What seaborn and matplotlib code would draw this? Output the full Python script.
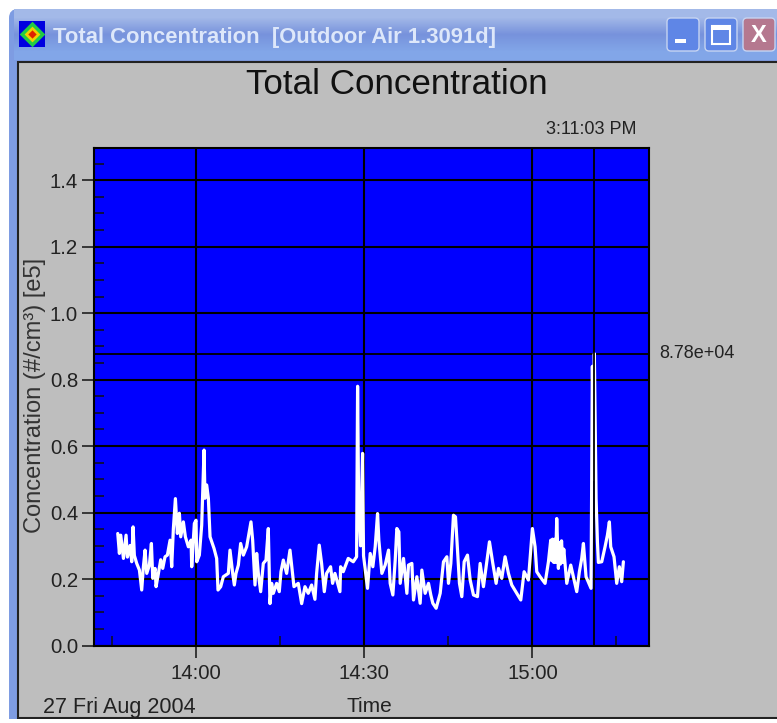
import pandas as pd
import seaborn as sns
import matplotlib.pyplot as plt
from matplotlib.colors import LinearSegmentedColormap
from matplotlib.patches import Rectangle, FancyBboxPatch

# minutes after 14:00
time_min = [
    -13.96, -13.67, -13.43, -12.95, -12.48, -12.24, -11.76, -11.47, -11.23, -11.0,
    -10.58, -10.1, -9.69, -9.39, -9.09, -8.79, -8.32, -7.96, -7.72, -7.31,
    -7.13, -6.71, -6.3, -5.94, -5.53, -5.11, -4.63, -4.34, -4.04, -3.68,
    -3.33, -2.97, -2.73, -2.26, -1.9, -1.37, -0.89, -0.77, -0.3, 0.0,
    0.12, 0.59, 1.01, 1.43, 1.6, 1.9, 2.2, 2.5, 3.21, 3.68,
    3.92, 4.4, 4.87, 5.76, 6.06, 6.54, 6.83, 7.13, 7.55, 7.96,
    8.44, 9.03, 9.8, 10.1, 10.52, 10.82, 11.11, 11.53, 12.0, 12.48,
    12.89, 13.19, 13.49, 13.78, 14.38, 14.85, 15.15, 15.57, 16.16, 16.76,
    17.11, 17.47, 18.24, 18.84, 19.43, 20.02, 20.62, 21.21, 21.51, 21.98,
    22.4, 22.88, 23.29, 24.0, 24.36, 24.78, 25.67, 25.79, 26.26, 27.15,
    28.05, 28.64, 28.82, 29.0, 29.35, 29.71, 29.88, 30.59, 31.07, 31.54,
    31.96, 32.38, 32.61, 33.15, 33.74, 34.34, 34.63, 35.11, 35.53, 35.82,
    36.18, 36.42, 37.01, 37.61, 37.9, 38.5, 38.79, 39.39, 39.98, 40.28,
    40.87, 41.47, 41.88, 42.24, 42.83, 43.55, 44.14, 44.74, 45.03, 45.45,
    45.92, 46.28, 46.52, 46.99, 47.41, 47.83, 48.42, 48.9, 49.49, 50.2,
    50.68, 51.27, 52.34, 52.94, 53.53, 53.95, 54.54, 55.13, 55.73, 56.32,
    57.21, 57.93, 58.52, 59.29, 60.0, 60.48, 60.78, 61.37, 62.26, 62.86,
    63.27, 63.45, 63.6, 63.8, 64.0, 64.15, 64.34, 64.64, 64.8, 65.0,
    65.2, 65.4, 65.6, 66.13, 66.84, 67.91, 68.38, 68.8, 69.1, 69.57,
    70.46, 70.7, 70.95, 71.05, 71.36, 71.6, 71.77, 72.37, 72.96, 73.38,
    73.73, 73.97, 74.56, 75.04, 75.51, 75.93, 76.23,
]
conc = [
    .337, .277, .332, .262, .332, .266, .301, .252, .357, .271,
    .247, .227, .167, .237, .287, .217, .242, .307, .202, .232,
    .177, .217, .258, .232, .267, .272, .317, .237, .352, .442,
    .337, .398, .327, .372, .327, .297, .317, .237, .367, .377,
    .252, .272, .362, .588, .443, .483, .443, .327, .292, .262,
    .167, .177, .207, .217, .287, .217, .182, .217, .242, .307,
    .272, .297, .372, .317, .182, .277, .217, .162, .247, .257,
    .352, .126, .187, .157, .187, .162, .222, .257, .217, .287,
    .232, .177, .187, .126, .177, .157, .182, .139, .217, .302,
    .247, .162, .217, .237, .187, .217, .162, .237, .222, .262,
    .252, .267, .78, .44, .30, .578, .27, .172, .277, .237,
    .297, .397, .317, .217, .242, .287, .187, .152, .257, .352,
    .342, .187, .262, .157, .242, .247, .137, .207, .127, .227,
    .157, .187, .152, .127, .112, .157, .252, .267, .187, .247,
    .392, .387, .322, .187, .147, .252, .272, .197, .152, .147,
    .247, .177, .312, .247, .187, .232, .202, .267, .217, .182,
    .157, .137, .222, .197, .352, .297, .222, .207, .187, .252,
    .317, .255, .32, .25, .32, .25, .382, .232, .31, .245,
    .315, .25, .29, .187, .242, .162, .222, .262, .307, .207,
    .172, .84, .50, .878, .443, .312, .25, .252, .297, .332,
    .372, .297, .267, .187, .237, .192, .252,
]
major_x = [0, 30, 60]
major_x_labels = ['14:00', '14:30', '15:00']
minor_x = [-15, 15, 45, 75]
major_y = [0.0, 0.2, 0.4, 0.6, 0.8, 1.0, 1.2, 1.4]
minor_y = [.05, .1, .15, .25, .3, .35, .45, .5, .55, .65, .7, .75,
           .85, .9, .95, 1.05, 1.1, 1.15, 1.25, 1.3, 1.35, 1.45]
cursor_time = 71.05
cursor_conc = 0.878

df = pd.DataFrame({'time': time_min, 'conc': conc})

sns.set_theme(style='white')
plt.rcParams['font.family'] = ['Liberation Sans', 'DejaVu Sans']

fig = plt.figure(figsize=(7.77, 7.23), dpi=100, facecolor='white')

# window frame, drawn in pixel coordinates
bg = fig.add_axes([0, 0, 1, 1])
bg.axis('off')
bg.add_patch(FancyBboxPatch((9, 9), 790, 720, boxstyle='round,pad=0,rounding_size=9',
                            fc='#7E9CE2', ec='none'))
bar_cmap = LinearSegmentedColormap.from_list('bar', ['#A3B9E8', '#7792DC', '#82A6E8'])
bg.imshow([[0.0], [0.5], [1.0]], extent=(14, 777, 60, 9), aspect='auto', cmap=bar_cmap,
          interpolation='bilinear', zorder=1)
bg.set_xlim(0, 777)
bg.set_ylim(723, 0)
bg.add_patch(Rectangle((18, 62), 770, 656, fc='#BEBEBE', ec='#222222', lw=1.5, zorder=2))
bg.add_patch(Rectangle((0, 719), 777, 4, fc='white', ec='none', zorder=3))

# icon
bg.add_patch(Rectangle((19, 21), 26, 26, fc='#0000E0', ec='none', zorder=3))
bg.scatter([32], [34], s=170, c='#22CC44', marker='D', zorder=4, lw=0)
bg.scatter([32], [34], s=65, c='#F0D000', marker='D', zorder=5, lw=0)
bg.scatter([32], [34], s=18, c='#E02000', marker='D', zorder=6, lw=0)
bg.text(53, 37, 'Total Concentration  [Outdoor Air 1.3091d]', color='#DDE7FA', fontsize=15.8,
        fontweight='bold', va='center', ha='left', zorder=4)

# window buttons
for x0, col in [(667, '#5F86E6'), (705, '#5F86E6'), (743, '#B5788F')]:
    bg.add_patch(FancyBboxPatch((x0, 18), 32, 33, boxstyle='round,pad=0,rounding_size=4',
                                fc=col, ec='#C6D4F2', lw=1, zorder=3))
bg.add_patch(Rectangle((675, 39), 11, 4, fc='white', ec='none', zorder=4))
bg.add_patch(Rectangle((712, 26), 18, 18, fc='none', ec='white', lw=1.5, zorder=4))
bg.add_patch(Rectangle((712, 26), 18, 4, fc='white', ec='none', zorder=4))
bg.text(759, 35, 'X', color='white', fontsize=17, fontweight='bold', ha='center', va='center', zorder=4)

# chart
ax = fig.add_axes([94 / 777, (723 - 645.5) / 723, 555 / 777, 497.5 / 723])
ax.set_facecolor('#0000FF')
ax.grid(True, which='major', color='black', lw=1.5)
ax.set_axisbelow(True)
sns.lineplot(data=df, x='time', y='conc', color='white', lw=2.3, estimator=None, ax=ax, zorder=3)
ax.axvline(cursor_time, color='black', lw=1.3, zorder=4)
ax.axhline(cursor_conc, color='black', lw=1.3, zorder=2)

ax.set_xlim(-18.2, 80.8)
ax.set_ylim(0, 1.497)
ax.set_xticks(major_x)
ax.set_xticklabels(major_x_labels)
ax.set_xticks(minor_x, minor=True)
ax.set_yticks(major_y)
ax.set_yticklabels([f'{v:.1f}' for v in major_y])
ax.set_yticks(minor_y, minor=True)
ax.tick_params(which='major', direction='out', length=8.5, width=1.1, color='#111111',
               labelsize=14.7, labelcolor='#222222', pad=3, left=True, bottom=True)
ax.tick_params(which='minor', direction='in', length=7, width=1.1, color='#111111',
               left=True, bottom=True)
ax.tick_params(axis='x', which='major', pad=5)
ax.set_xlabel('')
ax.set_ylabel('')
for s in ax.spines.values():
    s.set_color('black')
    s.set_linewidth(1.5)

bg.text(397, 85, 'Total Concentration', fontsize=25.2, color='#111111', ha='center', va='center', zorder=4)
bg.text(591, 130, '3:11:03 PM', fontsize=13, color='#222222', ha='center', va='center', zorder=4)
bg.text(697, 353, '8.78e+04', fontsize=13, color='#222222', ha='center', va='center', zorder=4)
bg.text(35, 395, 'Concentration (#/cm³) [e5]', fontsize=17, color='#333333', rotation=90,
        ha='center', va='center', zorder=4)
bg.text(43, 707, '27 Fri Aug 2004', fontsize=15.5, color='#222222', ha='left', va='center', zorder=4)
bg.text(369, 707, 'Time', fontsize=15, color='#222222', ha='center', va='center', zorder=4)

fig.savefig('out.png', dpi=100)
